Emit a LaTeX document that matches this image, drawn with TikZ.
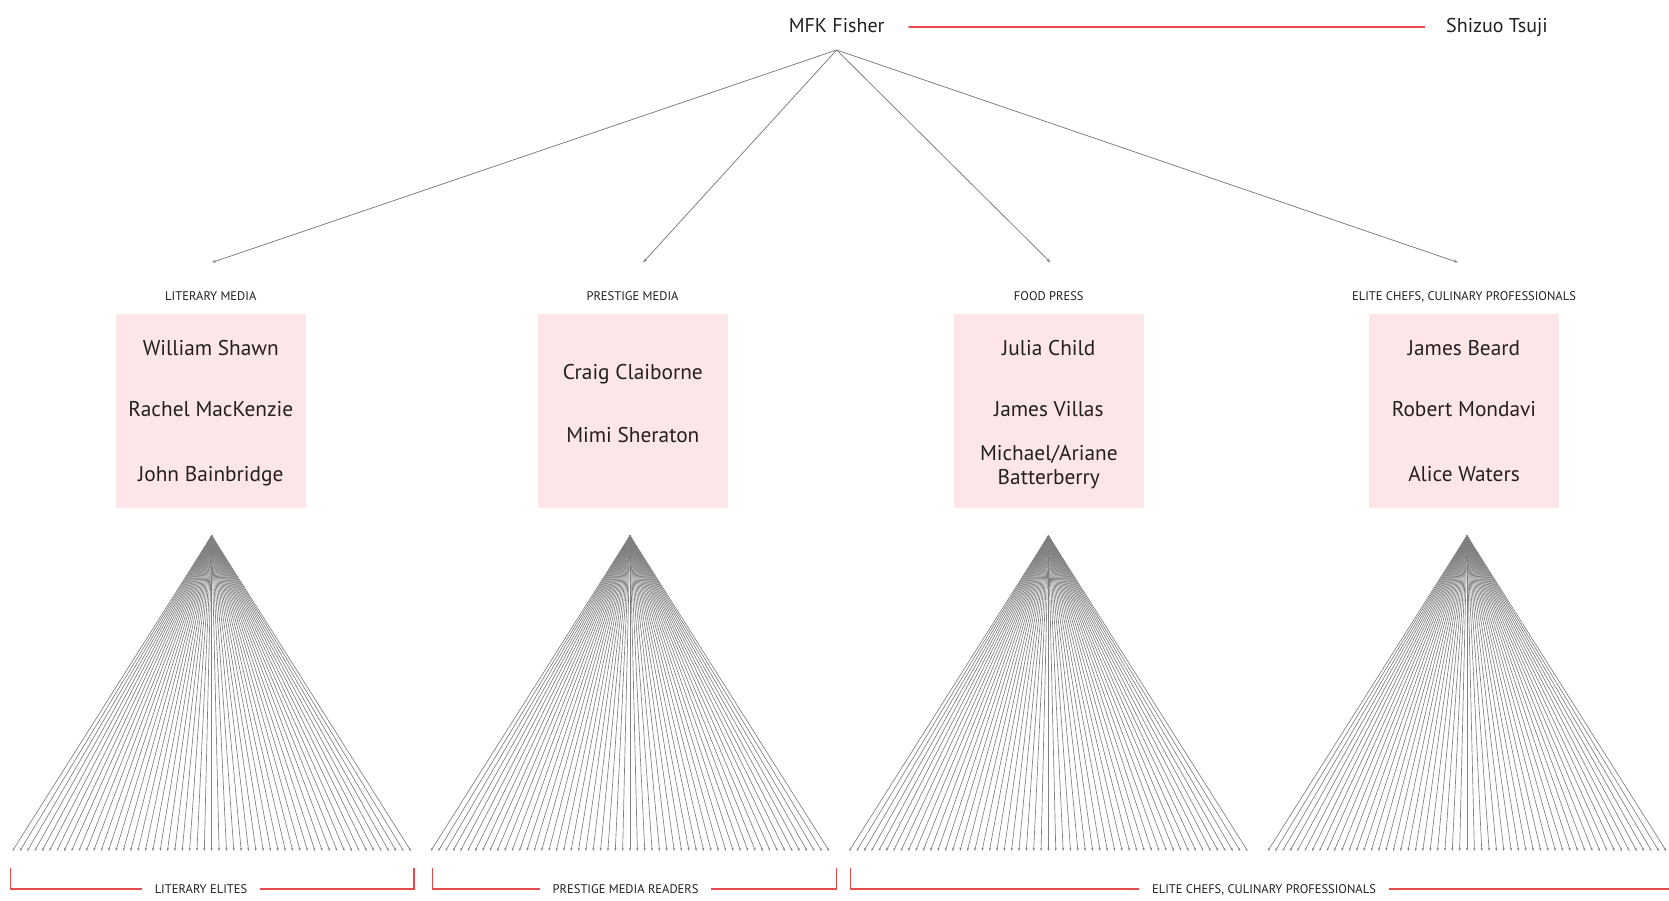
\documentclass[tikz,border=0pt]{standalone}
\usepackage{fontspec}
\setmainfont{PT Sans}
\usetikzlibrary{arrows.meta}

\definecolor{boxpink}{RGB}{252,230,232}
\definecolor{linegray}{RGB}{128,128,130}
\definecolor{bracketred}{RGB}{232,74,78}
\definecolor{inktext}{RGB}{35,31,32}

\tikzset{
  toplabel/.style={font=\fontsize{15}{18}\selectfont, text=inktext, inner sep=0pt,
                   text height=10.5pt, text depth=0pt},
  person/.style={font=\fontsize{16}{19}\selectfont, text=inktext, inner sep=0pt, anchor=base},
  catlabel/.style={font=\fontsize{9.4}{11}\selectfont, text=inktext, inner sep=0pt, anchor=base},
  grouplabel/.style={font=\fontsize{9.4}{11}\selectfont, text=inktext, inner ysep=0pt, inner xsep=9.5pt,
                     text height=6.5pt, text depth=0pt},
  groupbox/.style={fill=boxpink, draw=none, minimum width=142.5pt, minimum height=145.5pt,
                   inner sep=0pt, anchor=north},
  toparrow/.style={draw=linegray, line width=0.6pt, -{Stealth[length=3.5pt,width=2.2pt]}},
  fanline/.style={draw=linegray, line width=0.5pt, -{Stealth[length=2.4pt,width=1.6pt]}},
  bracket/.style={draw=bracketred, line width=0.8pt},
}

\begin{document}
\begin{tikzpicture}[x=0.75pt,y=-0.75pt]
\useasboundingbox (0,0) rectangle (1669,900);

% --- top row: the two principals ---
\node[toplabel, anchor=base] (fisher) at (836.6,32) {MFK Fisher};
\node[toplabel, anchor=base] (tsuji) at (1497,32) {Shizuo Tsuji};
\draw[bracket, {Stealth[length=3pt,width=2pt]}-, shorten <=17pt, shorten >=15.5pt]
  ([yshift=-1.5pt]fisher.east) -- ([yshift=-1.5pt]tsuji.west);

% --- arrows from the apex down to the four groups ---
\coordinate (hub) at (836.6,50);
\coordinate (t1) at (211.7,262.5);
\coordinate (t2) at (643,262.5);
\coordinate (t3) at (1050.6,262.5);
\coordinate (t4) at (1458.2,262.5);
\foreach \k in {1,...,4} { \draw[toparrow] (hub) -- (t\k); }

% --- category captions ---
\node[catlabel] (cat1) at (210.8,300.7) {LITERARY MEDIA};
\node[catlabel] (cat2) at (632.5,300.7) {PRESTIGE MEDIA};
\node[catlabel] (cat3) at (1048.8,300.7) {FOOD PRESS};
\node[catlabel] (cat4) at (1464,300.7) {ELITE CHEFS, CULINARY PROFESSIONALS};

% --- pink boxes with names ---
\node[groupbox] (box1) at (210.8,313.5) {};
\node[groupbox] (box2) at (632.8,313.5) {};
\node[groupbox] (box3) at (1048.8,313.5) {};
\node[groupbox] (box4) at (1464,313.5) {};

\node[person] (p1a) at (210.8,355.7) {William Shawn};
\node[person] (p1b) at (210.8,416.5) {Rachel MacKenzie};
\node[person] (p1c) at (210.8,481) {John Bainbridge};

\node[person] (p2a) at (632.8,379) {Craig Claiborne};
\node[person] (p2b) at (632.8,442.7) {Mimi Sheraton};

\node[person] (p3a) at (1048.8,355.5) {Julia Child};
\node[person] (p3b) at (1048.8,416) {James Villas};
\node[person] (p3c) at (1048.8,460) {Michael/Ariane};
\node[person] (p3d) at (1048.8,484.5) {Batterberry};

\node[person] (p4a) at (1464,355.5) {James Beard};
\node[person] (p4b) at (1464,416) {Robert Mondavi};
\node[person] (p4c) at (1464,481) {Alice Waters};

% --- audience fans: 55 arrows spreading from each apex ---
\foreach \k/\cx in {1/211.7, 2/630, 3/1048.4, 4/1467} {
  \coordinate (apex\k) at (\cx,535.7);
  \foreach \i in {-27,...,27} {
    \coordinate (foot\k\i) at ({\cx+\i*7.38},851);
    \draw[fanline] (apex\k) -- (foot\k\i);
  }
}

% --- audience brackets ---
\node[grouplabel] (aud1) at (201,889) {LITERARY ELITES};
\node[grouplabel] (aud2) at (625.6,889) {PRESTIGE MEDIA READERS};
\node[grouplabel] (aud3) at (1264,889) {ELITE CHEFS, CULINARY PROFESSIONALS};

\coordinate (br1l) at (10.5,867.5);
\coordinate (br1r) at (414,867.5);
\coordinate (br2l) at (432.3,867.5);
\coordinate (br2r) at (836.7,867.5);
\coordinate (br3l) at (850.6,867.5);
\coordinate (br3r) at (1669,889);

\draw[bracket] (br1l) |- (aud1.west);
\draw[bracket] (aud1.east) -| (br1r);
\draw[bracket] (br2l) |- (aud2.west);
\draw[bracket] (aud2.east) -| (br2r);
\draw[bracket] (br3l) |- (aud3.west);
\draw[bracket] (aud3.east) -- (br3r);
\end{tikzpicture}
\end{document}
